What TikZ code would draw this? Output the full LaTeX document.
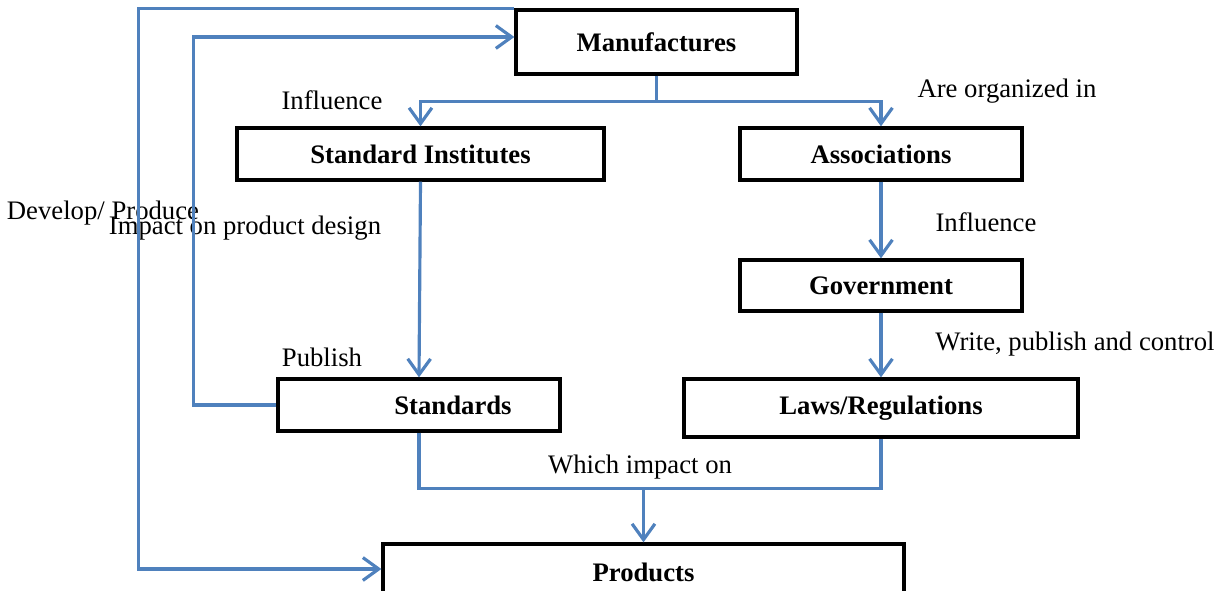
\documentclass[tikz,border=0pt]{standalone}
\usepackage{fontspec}
\setmainfont{Liberation Serif}
\usetikzlibrary{positioning, arrows.meta}
\definecolor{linkblue}{RGB}{79,129,189}

\begin{document}
\begin{tikzpicture}[x=0.02cm, y=-0.02cm,
  box/.style={draw, line width=1.9pt, inner sep=0pt, align=center, font=\fontsize{15.2}{18}\selectfont\bfseries},
  lbl/.style={inner sep=0pt, font=\fontsize{15.2}{18}\selectfont},
  link/.style={line width=1.8pt, color=linkblue},
  arr/.style={-{Straight Barb[length=9pt, width=13pt, line width=1.8pt]}, line width=1.8pt, color=linkblue}]
  \useasboundingbox (0,0) rectangle (1221,591);
  \clip (0,0) rectangle (1221,591);
  % boxes
  \node[box, minimum width=5.62cm, minimum height=1.28cm] (manu) at (656.5,42) {Manufactures};
  \node[box, minimum width=7.34cm, minimum height=1.04cm] (stdinst) at (420.5,154) {Standard Institutes};
  \node[box, minimum width=5.64cm, minimum height=1.04cm] (assoc) at (881,154) {Associations};
  \node[box, minimum width=5.64cm, minimum height=1.02cm] (gov) at (881,285.5) {Government};
  \node[box, minimum width=5.64cm, minimum height=1.04cm] (stds) at (419,405) {\hspace{1.36cm}Standards};
  \node[box, minimum width=7.88cm, minimum height=1.16cm] (laws) at (881,408) {Laws/Regulations};
  \node[box, minimum width=10.42cm, minimum height=1.12cm] (prod) at (643.5,572) {Products};
  % labels
  \node[lbl] (inflA) at (332,100) {Influence};
  \node[lbl] (orgz) at (1007,91) {Are organized in};
  \node[lbl] (devp) at (103,213) {Develop/ Produce};
  \node[lbl] (impd) at (245,228) {Impact on product design};
  \node[lbl] (inflB) at (986,222) {Influence};
  \node[lbl] (wpc) at (1075,344) {Write, publish and control};
  \node[lbl] (publ) at (322,357) {Publish};
  \node[lbl] (which) at (640,467) {Which impact on};
  % connectors
  \path (manu.south) ++(0,26) coordinate (split);
  \draw[link] (manu.south) -- (split);
  \draw[arr] (split) -| (stdinst.north);
  \draw[arr] (split) -| (assoc.north);
  \draw[arr] (stdinst.south) -- (stds.north);
  \draw[arr] (assoc) -- (gov);
  \draw[arr] (gov) -- (laws);
  \path (stds.south) ++(0,56) coordinate (mergeL);
  \coordinate (join) at (prod.north |- mergeL);
  \draw[link] (stds.south) -- (mergeL) -| (laws.south);
  \draw[arr] (join) -- (prod.north);
  \draw[arr] (stds.west) -- ++(-83,0) |- ([yshift=0.1cm]manu.west);
  \draw[arr] (manu.north west) -- ++(-376,0) |- ([yshift=0.06cm]prod.west);
\end{tikzpicture}
\end{document}
